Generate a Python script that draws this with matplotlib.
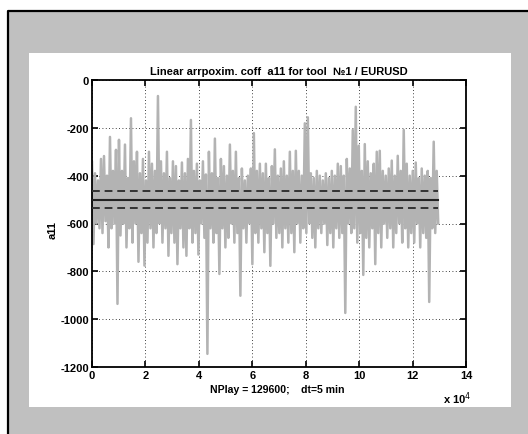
import numpy as np
import matplotlib
matplotlib.use("Agg")
import matplotlib.pyplot as plt
from matplotlib.patches import Rectangle
from matplotlib.lines import Line2D

# ==================== data ====================
n_play = 129600
# upper / lower extremes of the a11 trace, evenly spaced along the run
upper = [-343, -390, -420, -330, -318, -400, -238, -380, -292, -250,
         -380, -270, -410, -160, -340, -300, -390, -330, -420, -300,
         -350, -380, -67, -340, -390, -300, -410, -340, -360, -420,
         -345, -390, -330, -167, -380, -350, -420, -340, -395, -300,
         -390, -245, -410, -330, -360, -400, -270, -380, -300, -410,
         -370, -420, -400, -370, -222, -380, -350, -390, -350, -410,
         -360, -290, -400, -370, -340, -400, -300, -380, -296, -380,
         -400, -181, -156, -390, -410, -380, -400, -420, -390, -410,
         -380, -400, -350, -360, -400, -330, -370, -209, -112, -275,
         -380, -268, -340, -390, -350, -300, -296, -380, -400, -370,
         -337, -400, -317, -380, -209, -350, -400, -380, -345, -410,
         -370, -400, -380, -410, -258, -380]
lower = [-686, -600, -620, -640, -590, -700, -620, -600, -936, -650,
         -600, -700, -620, -680, -600, -760, -640, -776, -680, -620,
         -700, -640, -600, -680, -620, -735, -640, -680, -770, -620,
         -700, -735, -620, -680, -640, -730, -600, -660, -1145, -620,
         -680, -640, -811, -620, -700, -660, -600, -680, -640, -902,
         -620, -680, -600, -770, -640, -680, -620, -720, -640, -777,
         -600, -660, -640, -700, -620, -680, -640, -720, -600, -680,
         -620, -640, -600, -660, -700, -620, -640, -600, -690, -640,
         -700, -620, -660, -640, -974, -600, -640, -620, -680, -640,
         -815, -660, -700, -620, -770, -640, -700, -600, -660, -620,
         -700, -640, -600, -680, -620, -700, -640, -680, -600, -700,
         -640, -660, -928, -620, -640, -600]
mean_level = -500
band_levels = [-465, -535]

xticks = [0, 2, 4, 6, 8, 10, 12, 14]
yticks = [0, -200, -400, -600, -800, -1000, -1200]

# ==================== figure ==========================================
W, H = 528, 435
fig = plt.figure(figsize=(W / 100, H / 100), dpi=100, facecolor="white")
fnt = ["Liberation Sans", "DejaVu Sans"]

def fx(px):
    return px / W

def fy(py):
    return 1 - py / H

# gray panel, black border on top/left, white plot area
fig.patches.append(Rectangle((fx(8), -0.5), 2, fy(12) + 0.5,
                             transform=fig.transFigure, facecolor="#c0c0c0",
                             edgecolor="none", linewidth=0, zorder=0))
fig.lines.append(Line2D([fx(8), fx(8), 1.5], [-0.5, fy(12), fy(12)],
                        transform=fig.transFigure, color="black",
                        linewidth=1.6, zorder=0.5))
fig.patches.append(Rectangle((fx(29), fy(408)), fx(511) - fx(29), fy(54) - fy(408),
                             transform=fig.transFigure, facecolor="white",
                             edgecolor="none", linewidth=0, zorder=1))

ax = fig.add_axes([fx(92), fy(368), fx(466) - fx(92), fy(81) - fy(368)])
ax.set_zorder(2)

# interleave the extremes into one trace
n = len(upper)
step = n_play / n
xs = np.empty(2 * n)
ys = np.empty(2 * n)
xs[0::2] = np.arange(n) * step
xs[1::2] = np.arange(n) * step + step / 2
ys[0::2] = upper
ys[1::2] = lower
xs = xs * n_play / xs[-1]

ax.plot(xs, ys, color="#b3b3b3", linewidth=1.8, zorder=2)
ax.plot([0, n_play], [mean_level, mean_level], color="#222222", linewidth=1.5, zorder=3)
for lv in band_levels:
    ax.plot([0, n_play], [lv, lv], color="#333333", linewidth=1.4,
            dashes=(4, 2.5), zorder=3)

ax.set_xlim(0, 14e4)
ax.set_ylim(-1200, 0)
ax.set_xticks([t * 1e4 for t in xticks])
ax.set_xticklabels([str(t) for t in xticks])
ax.set_yticks(yticks)
ax.set_yticklabels([str(t) for t in yticks])
ax.grid(True, color="black", linestyle=(0, (1, 3)), linewidth=0.6)
ax.set_axisbelow(True)
ax.tick_params(direction="in", length=4, width=1.2, top=True, right=True,
               labelsize=8, pad=2, color="black")
for lab in ax.get_xticklabels() + ax.get_yticklabels():
    lab.set_family(fnt)
    lab.set_fontweight("bold")
for sp in ax.spines.values():
    sp.set_linewidth(1.3)

ax.set_title("Linear arrpoxim. coff  a11 for tool  \u21161 / EURUSD",
             family=fnt, fontsize=8, fontweight="bold", pad=4)
fig.text(fx(277), fy(390), "NPlay = 129600;    dt=5 min", family=fnt, fontsize=7.6,
         fontweight="bold", ha="center", va="center")
fig.text(fx(53), fy(230), "a11", family=fnt, fontsize=8, fontweight="bold",
         rotation=90, ha="center", va="center")
fig.text(fx(457), fy(399), r"x 10$^{4}$", family=fnt, fontsize=8,
         fontweight="bold", ha="center", va="center")

fig.savefig("out.png", dpi=100, facecolor=fig.get_facecolor())
